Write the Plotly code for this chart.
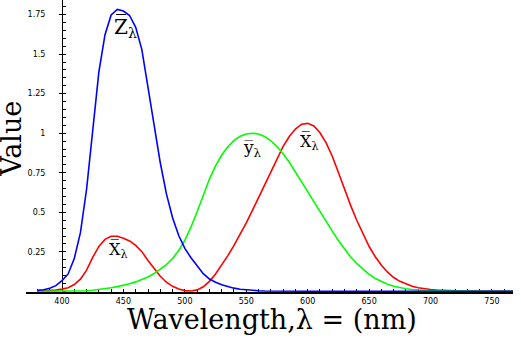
import plotly.graph_objects as go

wavelength = list(range(380, 785, 5))
x_bar = [0.001368,0.002236,0.004243,0.007650,0.014310,0.023190,0.043510,0.077630,0.134380,0.214770,
         0.283900,0.328500,0.348280,0.348060,0.336200,0.318700,0.290800,0.251100,0.195360,0.142100,
         0.095640,0.057950,0.032010,0.014700,0.004900,0.002400,0.009300,0.029100,0.063270,0.109600,
         0.165500,0.225750,0.290400,0.359700,0.433450,0.512050,0.594500,0.678400,0.762100,0.842500,
         0.916300,0.978600,1.026300,1.056700,1.062200,1.045600,1.002600,0.938400,0.854450,0.751400,
         0.642400,0.541900,0.447900,0.360800,0.283500,0.218700,0.164900,0.121200,0.087400,0.063600,
         0.046770,0.032900,0.022700,0.015840,0.011359,0.008111,0.005790,0.004109,0.002899,0.002049,
         0.001440,0.001000,0.000690,0.000476,0.000332,0.000235,0.000166,0.000117,0.000083,0.000059,
         0.000042]
y_bar = [0.000039,0.000064,0.000120,0.000217,0.000396,0.000640,0.001210,0.002180,0.004000,0.007300,
         0.011600,0.016840,0.023000,0.029800,0.038000,0.048000,0.060000,0.073900,0.090980,0.112600,
         0.139020,0.169300,0.208020,0.258600,0.323000,0.407300,0.503000,0.608200,0.710000,0.793200,
         0.862000,0.914850,0.954000,0.980300,0.994950,1.000000,0.995000,0.978600,0.952000,0.915400,
         0.870000,0.816300,0.757000,0.694900,0.631000,0.566800,0.503000,0.441200,0.381000,0.321000,
         0.265000,0.217000,0.175000,0.138200,0.107000,0.081600,0.061000,0.044580,0.032000,0.023200,
         0.017000,0.011920,0.008210,0.005723,0.004102,0.002929,0.002091,0.001484,0.001047,0.000740,
         0.000520,0.000361,0.000249,0.000172,0.000120,0.000085,0.000060,0.000042,0.000030,0.000021,
         0.000015]
z_bar = [0.006450,0.010550,0.020050,0.036210,0.067850,0.110200,0.207400,0.371300,0.645600,1.039050,
         1.385600,1.622960,1.747060,1.782600,1.772110,1.744100,1.669200,1.528100,1.287640,1.041900,
         0.812950,0.616200,0.465180,0.353300,0.272000,0.212300,0.158200,0.111700,0.078250,0.057250,
         0.042160,0.029840,0.020300,0.013400,0.008750,0.005750,0.003900,0.002750,0.002100,0.001800,
         0.001650,0.001400,0.001100,0.001000,0.000800,0.000600,0.000340,0.000240,0.000190,0.000100,
         0.000050,0.000030,0.000020,0.000010] + [0.0] * 27

x_ticks = [400, 450, 500, 550, 600, 650, 700, 750]
y_ticks = [0.25, 0.5, 0.75, 1.0, 1.25, 1.5, 1.75]
y_tick_text = ["0.25", "0.5", "0.75", "1", "1.25", "1.5", "1.75"]

XR = [370.7, 767.1]
YR = [-0.004, 1.842]

fig = go.Figure()
for vals, col in [(x_bar, "#ff0000"), (y_bar, "#00ff00"), (z_bar, "#0000ff")]:
    fig.add_trace(go.Scatter(x=wavelength, y=vals, mode="lines",
                             line=dict(color=col, width=1.6), showlegend=False))

tickfont = dict(family="DejaVu Sans", size=8, color="black")
fig.update_xaxes(range=XR, showline=True, linecolor="black", linewidth=2,
                 showgrid=False, zeroline=False, ticks="inside", ticklen=3,
                 tickcolor="black", tickwidth=1, tickvals=x_ticks,
                 tickfont=tickfont, layer="below traces", automargin=False,
                 minor=dict(dtick=10, tick0=0, ticks="inside", ticklen=3,
                            tickcolor="black", showgrid=False))
fig.update_yaxes(range=YR, showline=True, linecolor="black", linewidth=1,
                 showgrid=False, zeroline=False, ticks="outside", ticklen=3,
                 tickcolor="black", tickvals=y_ticks, ticktext=y_tick_text,
                 tickfont=tickfont, anchor="free", automargin=False,
                 position=(400 - XR[0]) / (XR[1] - XR[0]),
                 ticklabelstandoff=12, layer="below traces",
                 minor=dict(dtick=0.05, tick0=0, ticks="inside", ticklen=3,
                            tickcolor="black", showgrid=False))

serif = "DejaVu Serif"
labels = [
    ("Z\u0305", 440.7, 1.669, 20),
    ("X\u0305", 592.0, 0.946, 16),
    ("y\u0305", 546.0, 0.905, 17),
    ("X\u0305", 436.6, 0.259, 16),
]
for t, lx, ly, fs in labels:
    fig.add_annotation(x=lx, y=ly, xref="x", yref="y", xanchor="left", yanchor="middle",
                       text=t + "<sub>λ</sub>", showarrow=False,
                       font=dict(family=serif, size=fs, color="black"))

fig.add_annotation(x=-0.029, y=0.524, xref="paper", yref="paper", text="Value",
                   textangle=-90, showarrow=False, xanchor="center", yanchor="middle",
                   font=dict(family=serif, size=27, color="black"))
fig.add_annotation(x=0.505, y=-0.095, xref="paper", yref="paper",
                   text="Wavelength,λ = (nm)", showarrow=False,
                   xanchor="center", yanchor="middle",
                   font=dict(family=serif, size=27, color="black"))

fig.update_layout(width=521, height=338, margin=dict(l=26, r=8, t=0, b=46),
                  plot_bgcolor="white", paper_bgcolor="white")
fig.write_html("out.html", config={"displayModeBar": False},
               post_script="document.body.style.margin='0';document.body.style.overflow='hidden';")
